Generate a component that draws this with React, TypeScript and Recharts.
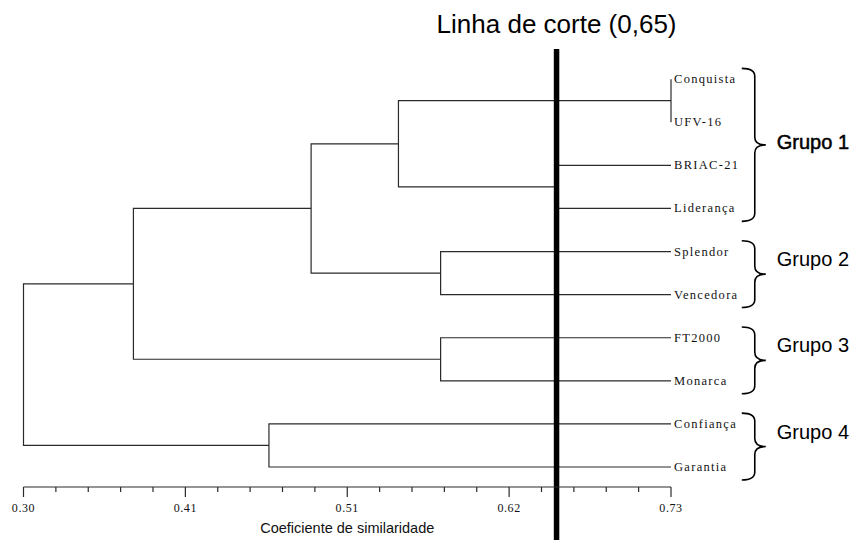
import { ComposedChart, Line, XAxis, YAxis, ReferenceLine } from 'recharts';

// leaves, top to bottom
const cultivars = [
  'Conquista',
  'UFV-16',
  'BRIAC-21',
  'Liderança',
  'Splendor',
  'Vencedora',
  'FT2000',
  'Monarca',
  'Confiança',
  'Garantia',
];

// agglomeration steps: ids >= 10 are earlier merges (10 = first step, ...)
const mergeLeft = [0, 2, 10, 4, 12, 6, 14, 8, 16];
const mergeRight = [1, 3, 11, 5, 13, 7, 15, 9, 17];
const mergeSimilarity = [0.73, 0.654, 0.549, 0.577, 0.491, 0.577, 0.373, 0.463, 0.3];

const cutValue = 0.654;
const cutLabel = 'Linha de corte (0,65)';

const groupNames = ['Grupo 1', 'Grupo 2', 'Grupo 3', 'Grupo 4'];
const groupFirst = [0, 4, 6, 8];
const groupLast = [3, 5, 7, 9];

const tickLabels = ['0.30', '0.41', '0.51', '0.62', '0.73'];
const axisMin = 0.3;
const axisMax = 0.73;

// layout tweaks for the group labels (px)
const labelDy = [-3, -15, -15, -15];
const braceX = 0.777;

const leafPos = cultivars.map((_, i) => ({ x: axisMax, y: i }));
const nodes = [...leafPos];
const links = mergeLeft.map((l, k) => {
  const a = nodes[l];
  const b = nodes[mergeRight[k]];
  const h = mergeSimilarity[k];
  nodes.push({ x: h, y: (a.y + b.y) / 2 });
  return [
    { x: a.x, y: a.y },
    { x: h, y: a.y },
    { x: h, y: b.y },
    { x: b.x, y: b.y },
  ];
});

const minorTicks = Array.from({ length: 21 }, (_, i) => axisMin + (i * (axisMax - axisMin)) / 20);

const lineColor = '#2a2a2a';
const serif = '"Liberation Serif", "Times New Roman", serif';
const sans = '"Liberation Sans", Arial, sans-serif';

function AxisTick(props: any) {
  const { x, y, index } = props;
  const major = index % 5 === 0;
  return (
    <g>
      <line x1={x} x2={x} y1={y} y2={y + (major ? 10 : 5)} stroke={lineColor} strokeWidth={1.2} />
      {major && (
        <text x={x} y={y + 25} textAnchor="middle" fontFamily={serif} fontSize={12} letterSpacing={0.6} fill="#111">
          {tickLabels[index / 5]}
        </text>
      )}
    </g>
  );
}

function LeafTick(props: any) {
  const { x, y, payload } = props;
  return (
    <text x={x + 3} y={y + 4} fontFamily={serif} fontSize={12.5} letterSpacing={1.3} fill="#111">
      {cultivars[payload.value]}
    </text>
  );
}

function bracePath(x0: number, y1: number, y2: number) {
  const d = 13;
  const t = 11;
  const r = 8;
  const ym = (y1 + y2) / 2;
  const xv = x0 + d;
  return [
    `M${x0},${y1}`,
    `Q${xv},${y1} ${xv},${y1 + r}`,
    `L${xv},${ym - r}`,
    `Q${xv},${ym} ${xv + t},${ym}`,
    `Q${xv},${ym} ${xv},${ym + r}`,
    `L${xv},${y2 - r}`,
    `Q${xv},${y2} ${x0},${y2}`,
  ].join(' ');
}

export default function App() {
  return (
    <div style={{ position: 'absolute', left: 0, top: 0, background: '#fff' }}>
      <ComposedChart width={865} height={540} margin={{ top: 49, right: 0, bottom: 0, left: 23.5 }}>
        <XAxis
          type="number"
          dataKey="x"
          domain={[axisMin, axisMax]}
          ticks={minorTicks}
          interval={0}
          height={53}
          tickSize={0}
          tickMargin={0}
          tickLine={false}
          axisLine={{ stroke: lineColor, strokeWidth: 1.2 }}
          tick={<AxisTick />}
          label={{
            value: 'Coeficiente de similaridade',
            position: 'insideBottom',
            offset: 7,
            fontFamily: sans,
            fontSize: 14.5,
            fill: '#111',
          }}
        />
        <YAxis
          type="number"
          orientation="right"
          reversed
          domain={[-0.7, 9.464]}
          ticks={leafPos.map((p) => p.y)}
          interval={0}
          width={194}
          tickSize={0}
          tickMargin={0}
          axisLine={false}
          tickLine={false}
          tick={<LeafTick />}
        />
        {links.map((pts, k) => (
          <Line
            key={k}
            data={pts}
            dataKey="y"
            type="linear"
            stroke={lineColor}
            strokeWidth={1.2}
            dot={false}
            activeDot={false}
            isAnimationActive={false}
          />
        ))}
        {groupNames.map((name, g) => (
          <ReferenceLine
            key={name}
            ifOverflow="visible"
            segment={[
              { x: braceX, y: groupFirst[g] - 0.25 },
              { x: braceX, y: groupLast[g] + 0.3 },
            ]}
            shape={(p: any) => (
              <g>
                <path d={bracePath(p.x1, p.y1, p.y2)} fill="none" stroke="#000" strokeWidth={1.6} />
                <text
                  x={p.x1 + 35}
                  y={(p.y1 + p.y2) / 2 + labelDy[g] + 7}
                  fontFamily={sans}
                  fontSize={20}
                  fill="#000"
                  stroke={g === 0 ? '#000' : 'none'}
                  strokeWidth={0.5}
                >
                  {name}
                </text>
              </g>
            )}
          />
        ))}
        <ReferenceLine
          ifOverflow="visible"
          segment={[
            { x: cutValue, y: -0.7 },
            { x: cutValue, y: 10.9 },
          ]}
          shape={(p: any) => (
            <g>
              <line x1={p.x1} x2={p.x2} y1={p.y1} y2={p.y2} stroke="#000" strokeWidth={5.5} />
              <text x={p.x1} y={p.y1 - 16} textAnchor="middle" fontFamily={sans} fontSize={26} fill="#000">
                {cutLabel}
              </text>
            </g>
          )}
        />
      </ComposedChart>
    </div>
  );
}
